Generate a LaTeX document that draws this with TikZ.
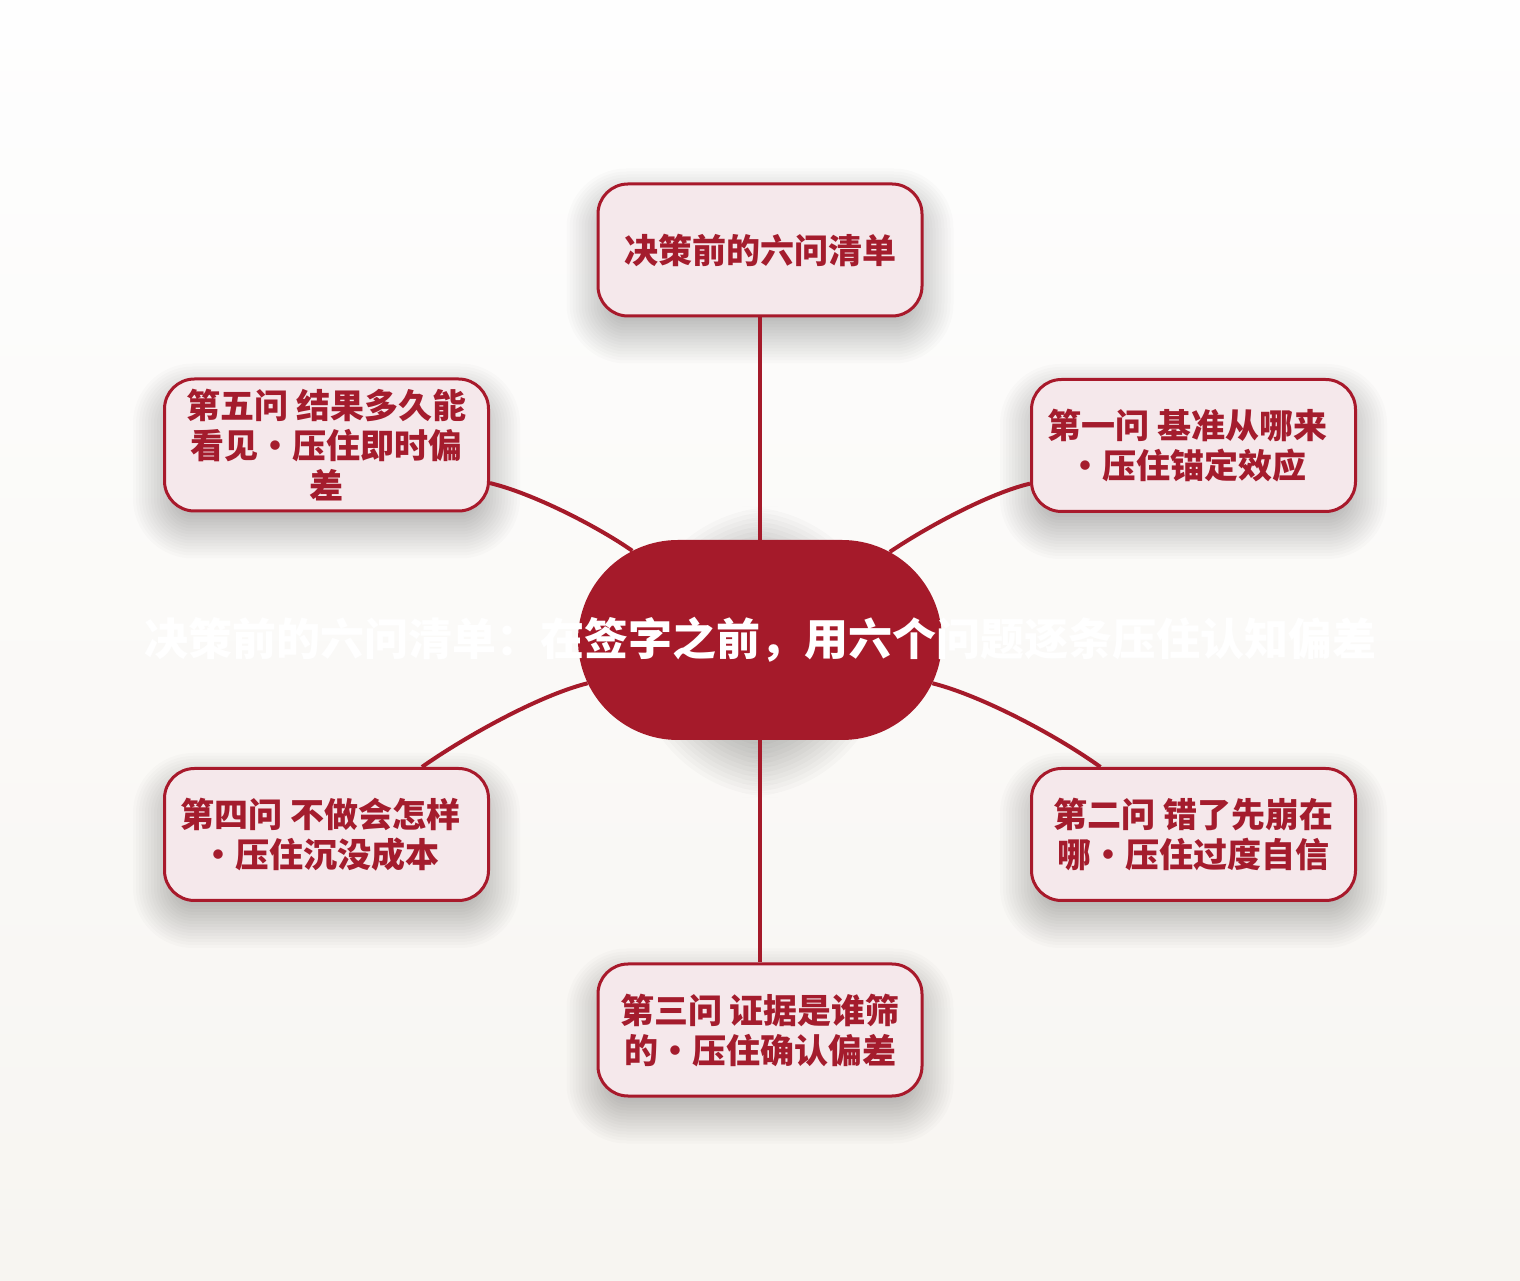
\documentclass[tikz,border=0pt]{standalone}
\usepackage{fontspec}
\newfontfamily\cjk{Noto Sans CJK SC}
\usetikzlibrary{shapes.misc}
\definecolor{bgtop}{HTML}{FEFEFE}
\definecolor{bgbot}{HTML}{F7F5F1}
\definecolor{hub}{HTML}{A51A2A}
\definecolor{satfill}{HTML}{F5E8EB}
\definecolor{satline}{HTML}{A8192B}
\definecolor{sattext}{HTML}{A41C2D}
\pgfdeclarelayer{bg}
\pgfdeclarelayer{shadow}
\pgfsetlayers{bg,shadow,main}
\newcommand\softshadow[5]{% node, base radius, yshift, step, opacity
  \foreach \k in {-5,...,10}{%
    \pgfmathsetmacro\ee{\k*(#4)}%
    \pgfmathsetmacro\rr{max((#2)+\ee,1)}%
    \pgfmathsetmacro\ax{0-(\ee)}%
    \pgfmathsetmacro\ay{0-(\ee)+(#3)}%
    \pgfmathsetmacro\by{\ee+(#3)}%
    \fill[black, opacity=#5, rounded corners=\rr pt]
      ([shift={(\ax pt,\ay pt)}]#1.south west) rectangle ([shift={(\ee pt,\by pt)}]#1.north east);
  }}
\tikzset{
  hubnode/.style={rounded rectangle, fill=hub, minimum width=364pt, minimum height=200pt,
    inner sep=0pt, text=white, font=\cjk\bfseries\fontsize{44pt}{52pt}\selectfont},
  satnode/.style={rectangle, rounded corners=30pt, draw=satline, line width=3pt,
    fill=satfill, minimum width=324pt, minimum height=132pt, inner sep=0pt,
    align=center, text=sattext, font=\cjk\bfseries\fontsize{34pt}{40pt}\selectfont},
  link/.style={draw=hub, line width=4pt, looseness=0.7}
}
\begin{document}
\begin{tikzpicture}[x=1pt,y=1pt]
  \useasboundingbox (0,0) rectangle (1520,1280);
  \begin{pgfonlayer}{bg}
    \shade[top color=bgtop, bottom color=bgbot] (0,0) rectangle (1520,1280);
  \end{pgfonlayer}

  \node[hubnode] (hub) at (760,640) {\makebox[0pt][c]{决策前的六问清单：在签字之前，用六个问题逐条压住认知偏差}};

  \node[satnode] (t)  at (760,1030)     {决策前的六问清单};
  \node[satnode] (q1) at (1193.5,834.5) {第一问 基准从哪来\kern12pt\\・压住锚定效应\kern12pt};
  \node[satnode] (q2) at (1193.5,445.5) {第二问 错了先崩在\\哪・压住过度自信};
  \node[satnode] (q3) at (760,250)      {第三问 证据是谁筛\\的・压住确认偏差};
  \node[satnode] (q4) at (326.5,445.5)  {第四问 不做会怎样\kern12pt\\・压住沉没成本\kern12pt};
  \node[satnode] (q5) at (326.5,835)    {第五问 结果多久能\\看见・压住即时偏\\差};

  \begin{pgfonlayer}{shadow}
    \softshadow{hub}{100}{-12}{4.5}{0.019}
    \foreach \n in {t,q1,q2,q3,q4,q5}{\softshadow{\n}{30}{-16}{3}{0.015}}
  \end{pgfonlayer}

  \draw[link] (hub) to[out=90,in=-90] (t);
  \draw[link] (hub) to[out=34.7,in=193.8] (q1);
  \draw[link] (hub) to[out=-14.4,in=144.2] (q2);
  \draw[link] (hub) to[out=-90,in=90] (q3);
  \draw[link] (hub) to[out=194.4,in=35.8] (q4);
  \draw[link] (hub) to[out=145.3,in=-13.8] (q5);
\end{tikzpicture}
\end{document}
